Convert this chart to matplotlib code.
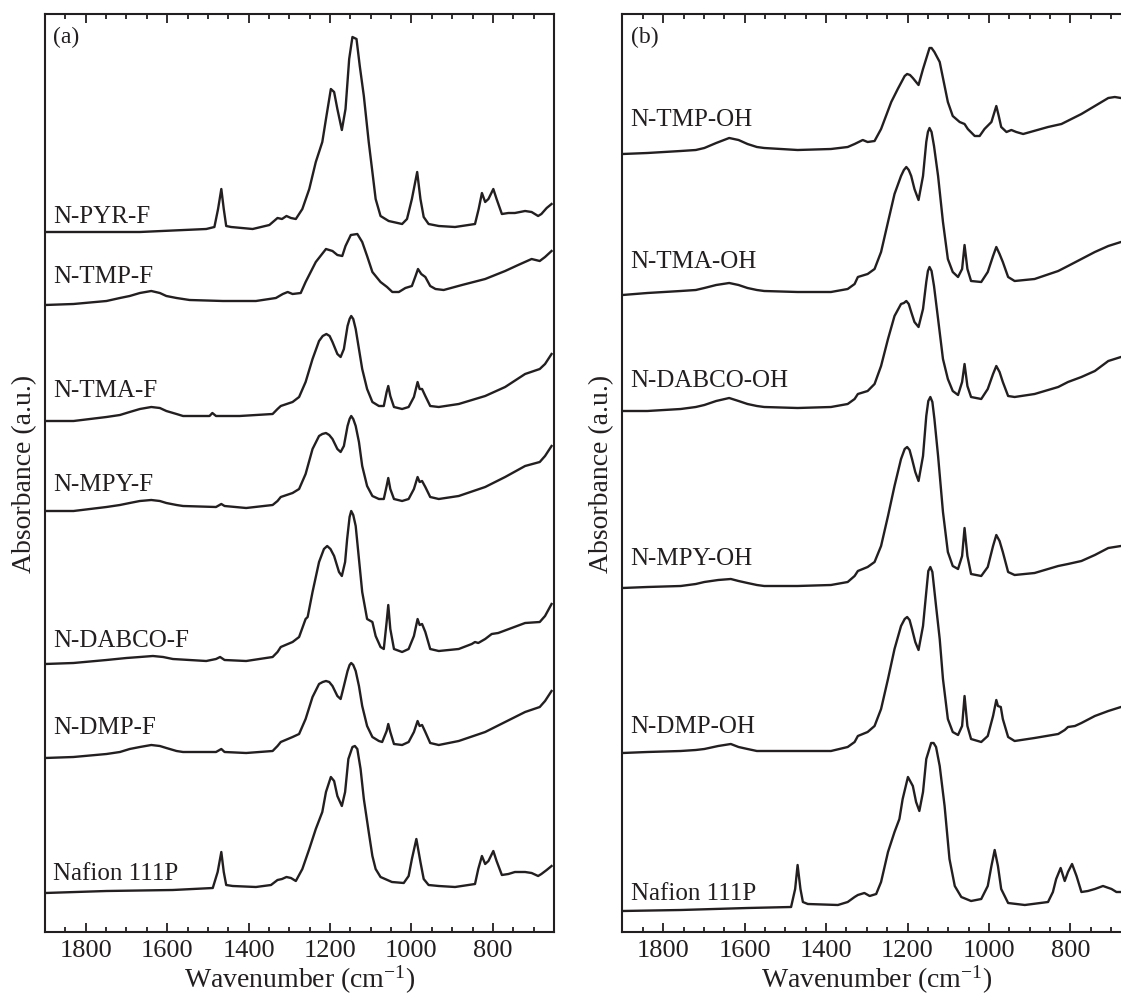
import matplotlib
matplotlib.use("Agg")
import matplotlib.pyplot as plt
from matplotlib.ticker import MultipleLocator

plt.rcParams['font.family'] = 'Liberation Serif'
plt.rcParams['mathtext.fontset'] = 'custom'
plt.rcParams['mathtext.rm'] = 'Liberation Serif'
plt.rcParams['mathtext.it'] = 'Liberation Serif:italic'

# ---- panel (a): fluoride forms, offset spectra (absorbance in a.u.) ----
wn_pyr_f = [1900, 1667, 1504, 1484, 1475, 1467, 1461, 1455, 1443, 1390, 1349, 1329, 1318, 1307, 1296, 1284,
            1268, 1251, 1235, 1219, 1210, 1198, 1190, 1182, 1171, 1162, 1153, 1145, 1135, 1127, 1117, 1105,
            1096, 1088, 1076, 1056, 1023, 1011, 999, 986, 978, 970, 958, 933, 893, 844, 835, 827, 819, 811,
            799, 791, 778, 762, 746, 721, 705, 689, 681, 668, 656]
ab_pyr_f = [703, 703, 706, 708, 726, 746, 726, 709, 708, 706, 710, 717, 716, 719, 717, 716,
            726, 746, 773, 793, 816, 846, 843, 826, 805, 826, 876, 898, 896, 869, 839, 793,
            763, 736, 719, 714, 711, 716, 736, 763, 736, 718, 711, 709, 708, 711, 726, 742, 733, 736,
            746, 736, 721, 722, 722, 724, 723, 719, 721, 727, 731]

wn_tmp_f = [1900, 1830, 1749, 1716, 1692, 1667, 1639, 1618, 1602, 1577, 1545, 1463, 1382, 1333, 1316, 1304,
            1292, 1272, 1260, 1235, 1210, 1194, 1182, 1170, 1162, 1149, 1133, 1121, 1109, 1096, 1076, 1060,
            1047, 1031, 1015, 999, 990, 984, 976, 966, 954, 941, 921, 876, 819, 770, 738, 705, 685, 672, 656]
ab_tmp_f = [630, 631, 634, 637, 639, 642, 644, 642, 639, 637, 635, 634, 634, 637, 641, 643,
            641, 642, 653, 673, 686, 684, 680, 679, 689, 700, 701, 693, 679, 663, 653, 648,
            643, 643, 647, 649, 659, 666, 661, 658, 649, 646, 645, 650, 656, 664, 670, 676, 674, 678, 684]

wn_tma_f = [1900, 1830, 1749, 1716, 1692, 1667, 1639, 1618, 1602, 1577, 1561, 1496, 1489, 1480, 1422, 1341,
            1329, 1321, 1292, 1276, 1260, 1243, 1227, 1218, 1209, 1201, 1194, 1182, 1174, 1166, 1157, 1152,
            1148, 1143, 1137, 1129, 1121, 1109, 1096, 1080, 1068, 1061, 1057, 1052, 1043, 1023, 1007, 994,
            985, 980, 974, 966, 954, 933, 884, 819, 770, 721, 685, 672, 656]
ab_tma_f = [514, 514, 518, 520, 523, 526, 528, 527, 524, 521, 519, 519, 522, 519, 519, 521,
            526, 529, 533, 538, 553, 576, 594, 599, 601, 599, 593, 581, 578, 586, 609, 616,
            619, 616, 606, 586, 566, 546, 533, 529, 529, 543, 549, 539, 528, 526, 528, 538,
            553, 546, 546, 539, 529, 528, 531, 539, 548, 561, 566, 571, 581]

wn_mpy_f = [1900, 1830, 1749, 1716, 1692, 1667, 1639, 1618, 1602, 1577, 1561, 1480, 1467, 1459, 1406, 1341,
            1329, 1321, 1292, 1276, 1260, 1243, 1227, 1219, 1210, 1202, 1194, 1182, 1174, 1166, 1157, 1152,
            1148, 1143, 1137, 1129, 1121, 1109, 1096, 1080, 1068, 1061, 1057, 1052, 1043, 1023, 1007, 994,
            985, 980, 974, 966, 954, 933, 884, 819, 770, 721, 685, 672, 656]
ab_mpy_f = [424, 424, 428, 430, 432, 434, 435, 434, 432, 430, 429, 428, 431, 429, 427, 430,
            434, 438, 442, 446, 461, 486, 499, 501, 502, 500, 496, 486, 483, 489, 509, 516,
            519, 516, 509, 493, 469, 449, 439, 436, 436, 449, 457, 446, 436, 434, 436, 446,
            458, 453, 454, 448, 438, 436, 439, 448, 458, 469, 473, 479, 489]

wn_dabco_f = [1900, 1830, 1749, 1700, 1667, 1635, 1610, 1586, 1504, 1480, 1470, 1459, 1406, 1341, 1329, 1321,
              1292, 1276, 1260, 1255, 1243, 1227, 1215, 1207, 1199, 1190, 1178, 1171, 1163, 1158, 1152, 1148,
              1143, 1137, 1129, 1121, 1109, 1096, 1088, 1076, 1068, 1061, 1057, 1052, 1043, 1023, 1007, 994,
              985, 980, 974, 966, 954, 933, 884, 852, 844, 836, 819, 803, 787, 754, 721, 685, 672, 656]
ab_dabco_f = [271, 272, 275, 277, 278, 279, 278, 276, 274, 276, 278, 275, 274, 278, 283, 288,
              293, 298, 316, 318, 343, 373, 386, 389, 386, 379, 363, 359, 373, 396, 418, 424,
              420, 409, 376, 343, 316, 313, 299, 288, 286, 313, 330, 306, 286, 283, 286, 299,
              316, 310, 311, 303, 286, 284, 286, 291, 293, 292, 296, 301, 302, 307, 312, 313, 319, 331]

wn_dmp_f = [1900, 1830, 1749, 1716, 1692, 1667, 1639, 1618, 1602, 1577, 1561, 1480, 1467, 1459, 1406, 1341,
            1329, 1321, 1292, 1276, 1260, 1243, 1227, 1218, 1210, 1202, 1194, 1182, 1174, 1166, 1157, 1152,
            1148, 1143, 1137, 1129, 1121, 1109, 1096, 1080, 1072, 1061, 1057, 1052, 1043, 1023, 1007, 994,
            985, 980, 974, 966, 954, 933, 884, 819, 770, 721, 685, 672, 656]
ab_dmp_f = [177, 178, 181, 183, 186, 188, 190, 189, 187, 184, 183, 183, 186, 183, 182, 184,
            189, 193, 198, 201, 216, 238, 251, 253, 254, 253, 249, 239, 236, 249, 264, 270,
            272, 270, 264, 249, 229, 209, 198, 194, 193, 204, 211, 203, 191, 190, 193, 203,
            214, 209, 210, 203, 192, 190, 194, 203, 213, 223, 228, 234, 244]

wn_nafion_a = [1900, 1749, 1586, 1488, 1476, 1467, 1461, 1455, 1439, 1382, 1345, 1329, 1318, 1307, 1296, 1284,
               1268, 1251, 1235, 1219, 1210, 1198, 1190, 1182, 1171, 1163, 1155, 1145, 1139, 1133, 1125, 1117,
               1105, 1096, 1088, 1076, 1048, 1019, 1007, 999, 988, 978, 970, 958, 933, 893, 844, 836, 827,
               819, 811, 799, 791, 778, 762, 746, 721, 705, 689, 681, 668, 656]
ab_nafion_a = [42, 44, 45, 47, 63, 83, 63, 50, 49, 48, 50, 55, 56, 58, 57, 54,
               66, 86, 106, 123, 143, 158, 154, 139, 129, 143, 176, 188, 189, 186, 166, 136,
               103, 79, 66, 58, 53, 52, 59, 76, 96, 73, 56, 50, 49, 48, 51, 66, 79,
               71, 74, 84, 74, 60, 61, 63, 63, 62, 59, 61, 65, 69]

# ---- panel (b): hydroxide forms ----
wn_tmp_oh = [1900, 1839, 1757, 1720, 1699, 1670, 1638, 1615, 1593, 1570, 1552, 1470, 1388, 1347, 1330, 1310,
             1298, 1281, 1265, 1240, 1224, 1207, 1201, 1194, 1187, 1173, 1162, 1146, 1141, 1134, 1121, 1109,
             1101, 1089, 1072, 1060, 1052, 1035, 1023, 1011, 994, 982, 976, 970, 957, 945, 933, 916, 855,
             822, 773, 740, 707, 691, 676, 655]
ab_tmp_oh = [781, 782, 784, 785, 787, 792, 797, 795, 791, 788, 787, 785, 786, 788, 791, 795,
             793, 794, 806, 833, 846, 859, 861, 860, 857, 850, 866, 887, 887, 883, 873, 849,
             833, 819, 813, 811, 806, 799, 799, 806, 813, 829, 819, 808, 803, 805, 803, 801, 808,
             811, 821, 829, 837, 838, 837, 834]

wn_tma_oh = [1900, 1839, 1757, 1720, 1699, 1670, 1638, 1615, 1593, 1570, 1552, 1470, 1388, 1347, 1330, 1322,
             1298, 1281, 1265, 1248, 1232, 1216, 1209, 1203, 1197, 1191, 1183, 1173, 1162, 1154, 1150, 1146,
             1141, 1135, 1125, 1113, 1101, 1089, 1076, 1066, 1060, 1053, 1044, 1019, 1003, 990, 982, 974,
             966, 953, 937, 888, 830, 806, 773, 740, 707, 676, 655]
ab_tma_oh = [640, 642, 644, 645, 647, 650, 652, 650, 647, 645, 644, 643, 643, 646, 651, 658,
             661, 666, 683, 713, 741, 759, 765, 768, 765, 759, 746, 735, 759, 793, 803, 807,
             803, 789, 759, 713, 676, 663, 658, 666, 690, 666, 654, 653, 663, 679, 688, 681,
             673, 658, 654, 656, 664, 669, 676, 683, 689, 693, 694]

wn_dabco_oh = wn_tma_oh
ab_dabco_oh = [524, 524, 526, 528, 530, 534, 537, 534, 531, 529, 528, 527, 528, 531, 536, 541,
               544, 551, 569, 596, 619, 631, 632, 634, 631, 623, 613, 608, 626, 653, 664, 668,
               664, 649, 616, 576, 556, 544, 540, 553, 571, 549, 538, 536, 546, 561, 569, 563,
               553, 539, 538, 541, 548, 553, 558, 564, 574, 578, 579]

wn_mpy_oh = [1900, 1839, 1757, 1720, 1699, 1665, 1634, 1615, 1593, 1570, 1552, 1470, 1388, 1347, 1330, 1322,
             1298, 1281, 1265, 1248, 1232, 1216, 1207, 1201, 1195, 1189, 1181, 1173, 1162, 1154, 1149, 1144,
             1139, 1134, 1125, 1113, 1101, 1089, 1076, 1066, 1060, 1053, 1044, 1019, 1003, 990, 982, 974,
             966, 953, 937, 888, 830, 806, 773, 740, 707, 676, 655]
ab_mpy_oh = [347, 348, 349, 351, 353, 355, 356, 354, 352, 350, 349, 349, 350, 353, 359, 364,
             368, 373, 389, 419, 449, 476, 486, 488, 485, 476, 463, 454, 479, 519, 534, 538,
             533, 516, 479, 423, 383, 369, 366, 379, 407, 379, 361, 359, 368, 389, 400, 394,
             383, 363, 360, 362, 369, 371, 374, 380, 387, 389, 390]

wn_dmp_oh = [1900, 1839, 1757, 1720, 1699, 1665, 1634, 1615, 1593, 1570, 1552, 1470, 1388, 1347, 1330, 1322,
             1298, 1281, 1265, 1248, 1232, 1216, 1207, 1201, 1195, 1189, 1181, 1173, 1162, 1154, 1149, 1144,
             1139, 1130, 1121, 1113, 1101, 1089, 1076, 1066, 1060, 1053, 1044, 1019, 1003, 990, 982, 978,
             971, 966, 953, 937, 888, 830, 814, 806, 789, 773, 740, 707, 676, 655]
ab_dmp_oh = [182, 183, 184, 185, 186, 189, 191, 188, 186, 184, 184, 184, 184, 188, 193, 199,
             203, 209, 226, 256, 286, 309, 316, 318, 315, 306, 293, 285, 309, 343, 364, 368,
             363, 329, 296, 256, 216, 203, 200, 209, 239, 209, 196, 193, 199, 219, 235, 229,
             228, 216, 198, 194, 197, 201, 205, 208, 209, 212, 219, 224, 228, 229]

wn_nafion_b = [1900, 1757, 1593, 1486, 1476, 1470, 1463, 1457, 1445, 1371, 1347, 1330, 1322, 1306, 1293, 1277,
               1265, 1248, 1232, 1220, 1212, 1199, 1187, 1179, 1171, 1162, 1154, 1142, 1136, 1130, 1121, 1109,
               1097, 1084, 1068, 1044, 1019, 1003, 994, 986, 978, 970, 953, 912, 855, 843, 835, 824, 814,
               806, 796, 785, 773, 757, 740, 720, 699, 687, 676, 655]
ab_nafion_b = [24, 25, 27, 28, 46, 70, 46, 33, 31, 30, 33, 38, 40, 42, 39, 41,
               53, 83, 103, 116, 136, 158, 149, 133, 124, 143, 176, 192, 192, 188, 169, 129,
               76, 49, 38, 34, 36, 49, 69, 85, 69, 46, 32, 30, 33, 43, 56, 67, 54,
               63, 71, 59, 43, 44, 46, 49, 46, 43, 43, 42]

names_a = ['N-PYR-F', 'N-TMP-F', 'N-TMA-F', 'N-MPY-F', 'N-DABCO-F', 'N-DMP-F', 'Nafion 111P']
names_b = ['N-TMP-OH', 'N-TMA-OH', 'N-DABCO-OH', 'N-MPY-OH', 'N-DMP-OH', 'Nafion 111P']
label_y_a = [713, 653, 539, 445, 289, 202, 56]
label_y_b = [810, 668, 549, 371, 203, 36]

spectra_a = [(wn_pyr_f, ab_pyr_f), (wn_tmp_f, ab_tmp_f), (wn_tma_f, ab_tma_f), (wn_mpy_f, ab_mpy_f),
             (wn_dabco_f, ab_dabco_f), (wn_dmp_f, ab_dmp_f), (wn_nafion_a, ab_nafion_a)]
spectra_b = [(wn_tmp_oh, ab_tmp_oh), (wn_tma_oh, ab_tma_oh), (wn_dabco_oh, ab_dabco_oh),
             (wn_mpy_oh, ab_mpy_oh), (wn_dmp_oh, ab_dmp_oh), (wn_nafion_b, ab_nafion_b)]

ink = '#231f20'
fig = plt.figure(figsize=(11.21, 9.95), dpi=100)
# panel (b) runs past the right edge of the figure, as in the original
ax_a = fig.add_axes([45 / 1121, 62 / 995, 509 / 1121, 918 / 995])
ax_b = fig.add_axes([622.5 / 1121, 62 / 995, 509 / 1121, 918 / 995])

for ax, spectra, names, ly, tag in [(ax_a, spectra_a, names_a, label_y_a, '(a)'),
                                     (ax_b, spectra_b, names_b, label_y_b, '(b)')]:
    for (wn, ab), name, y in zip(spectra, names, ly):
        ax.plot(wn, ab, color=ink, lw=1.7, solid_joinstyle='round')
        ax.text(1880, y, name, fontsize=18, color=ink, va='baseline')
    ax.text(1880, 893, tag, fontsize=17, color=ink, va='baseline')
    ax.set_xlim(1900, 650)
    ax.set_ylim(3, 921)
    ax.xaxis.set_major_locator(MultipleLocator(200))
    ax.xaxis.set_minor_locator(MultipleLocator(50))
    ax.set_yticks([])
    ax.tick_params(axis='x', which='both', direction='in', top=True, width=1.3, color=ink,
                   labelsize=19, labelcolor=ink, pad=5)
    ax.tick_params(axis='x', which='major', length=6.5)
    ax.tick_params(axis='x', which='minor', length=3.3)
    for sp in ax.spines.values():
        sp.set_linewidth(1.5)
        sp.set_color(ink)
    ax.set_xlabel(r'Wavenumber (cm$^{\mathrm{-1}}$)', fontsize=20, color=ink, labelpad=1)
    ax.set_ylabel('Absorbance (a.u.)', fontsize=20, color=ink, labelpad=6)

fig.savefig('out.png', dpi=100)
